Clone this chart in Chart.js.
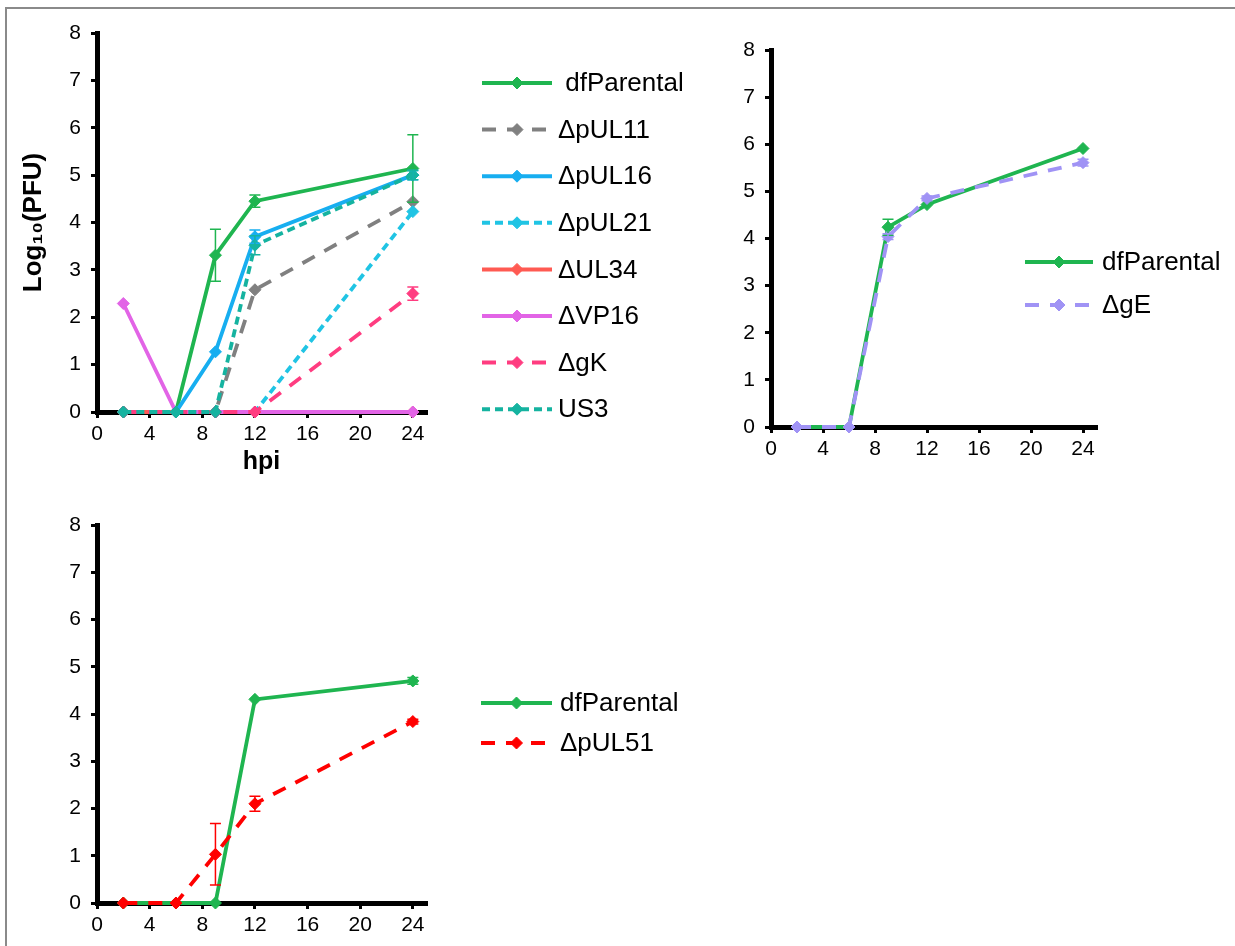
<!DOCTYPE html>
<html><head><meta charset="utf-8">
<script src="https://cdn.jsdelivr.net/npm/chart.js@4.4.1/dist/chart.umd.min.js"></script>
<style>
html,body{margin:0;padding:0;background:#fff;}
body{width:1235px;height:946px;position:relative;overflow:hidden;}
#frame{position:absolute;left:5px;top:7px;width:1240px;height:950px;border-left:2px solid #8a8a8a;border-top:2px solid #8a8a8a;}
canvas{position:absolute;}
#c1{left:0;top:0;}
#c2{left:700px;top:0;}
#c3{left:0;top:490px;}
</style></head><body>
<div id="frame"></div>
<canvas id="c1" width="700" height="477"></canvas>
<canvas id="c2" width="535" height="480"></canvas>
<canvas id="c3" width="700" height="456"></canvas>
<script>
// ---------- data ----------
const hours = [2, 6, 9, 12, 24];
const xTicks = [0, 4, 8, 12, 16, 20, 24];
const yTicks = [0, 1, 2, 3, 4, 5, 6, 7, 8];
const yTitle = 'Log₁₀(PFU)';
const xTitle = 'hpi';

// Panel A
const aLabels = [' dfParental', 'ΔpUL11', 'ΔpUL16', 'ΔpUL21', 'ΔUL34', 'ΔVP16', 'ΔgK', 'US3'];
const aParental    = [0, 0, 3.31, 4.45, 5.14];
const aParentalErr = [0, 0, 0.55, 0.13, 0.71];
const aUL11        = [0, 0, 0, 2.58, 4.44];
const aUL11Err     = [0, 0, 0, 0, 0];
const aUL16        = [0, 0, 1.27, 3.70, 5.00];
const aUL16Err     = [0, 0, 0, 0.14, 0.10];
const aUL21        = [0, 0, 0, 0, 4.23];
const aUL21Err     = [0, 0, 0, 0, 0];
const aUL34        = [0, 0, 0, 0, 0];
const aUL34Err     = [0, 0, 0, 0, 0];
const aVP16        = [2.29, 0, 0, 0, 0];
const aVP16Err     = [0, 0, 0, 0, 0];
const agK          = [0, 0, 0, 0, 2.50];
const agKErr       = [0, 0, 0, 0, 0.14];
const aUS3         = [0, 0, 0, 3.52, 5.00];
const aUS3Err      = [0, 0, 0, 0.20, 0.10];

// Panel B
const bLabels = ['dfParental', 'ΔgE'];
const bParental    = [0, 0, 4.24, 4.72, 5.91];
const bParentalErr = [0, 0, 0.17, 0, 0];
const bgE          = [0, 0, 4.04, 4.85, 5.61];
const bgEErr       = [0, 0, 0.06, 0.05, 0.07];

// Panel C
const cLabels = ['dfParental', 'ΔpUL51'];
const cParental    = [0, 0, 0, 4.31, 4.70];
const cParentalErr = [0, 0, 0, 0, 0.07];
const cUL51        = [0, 0, 1.03, 2.10, 3.84];
const cUL51Err     = [0, 0, 0.65, 0.16, 0.05];

// ---------- styles ----------
const FAMILY = "'Liberation Sans', Arial, Helvetica, sans-serif";
Chart.defaults.font.family = FAMILY;
const LONG = [14, 11], SHORT = [8, 5];
const styleA = [
  {c:'#1fb550', d:[]}, {c:'#808080', d:LONG}, {c:'#17aef0', d:[]}, {c:'#20c4e4', d:SHORT},
  {c:'#ff5a52', d:[]}, {c:'#e264e6', d:[]}, {c:'#ff3c80', d:LONG}, {c:'#15b3a0', d:SHORT}
];
const styleB = [{c:'#1fb550', d:[]}, {c:'#a093f5', d:LONG}];
const styleC = [{c:'#1fb550', d:[]}, {c:'#ff0000', d:LONG}];

function makeDatasets(labels, series, errs, styles) {
  return series.map((vals, i) => ({
    label: labels[i],
    data: hours.map((h, k) => ({x: h, y: vals[k]})),
    errors: errs[i],
    borderColor: styles[i].c,
    backgroundColor: styles[i].c,
    pointBackgroundColor: styles[i].c,
    pointBorderColor: styles[i].c,
    borderDash: styles[i].d,
    borderWidth: 3.8,
    pointStyle: 'rectRot',
    pointRadius: 6,
    pointBorderWidth: 1,
    tension: 0,
    clip: false,
    order: -i
  }));
}

const errorBars = {
  id: 'errorBars',
  afterDatasetsDraw(chart) {
    const ctx = chart.ctx, xs = chart.scales.x, ys = chart.scales.y;
    chart.data.datasets.forEach(ds => {
      if (!ds.errors) return;
      ctx.save();
      ctx.strokeStyle = ds.borderColor; ctx.lineWidth = 1.5; ctx.setLineDash([]);
      ds.data.forEach((p, i) => {
        const e = ds.errors[i];
        if (!e) return;
        const x = xs.getPixelForValue(p.x);
        const y1 = ys.getPixelForValue(p.y - e), y2 = ys.getPixelForValue(p.y + e);
        ctx.beginPath();
        ctx.moveTo(x, y1); ctx.lineTo(x, y2);
        ctx.moveTo(x - 5.5, y1); ctx.lineTo(x + 5.5, y1);
        ctx.moveTo(x - 5.5, y2); ctx.lineTo(x + 5.5, y2);
        ctx.stroke();
      });
      ctx.restore();
    });
  }
};

const lineLegend = {
  id: 'lineLegend',
  afterDraw(chart, args, o) {
    const ctx = chart.ctx;
    chart.data.datasets.forEach((ds, i) => {
      const y = o.y + i * o.dy;
      ctx.save();
      ctx.strokeStyle = ds.borderColor; ctx.lineWidth = 4;
      ctx.setLineDash(ds.borderDash || []);
      ctx.beginPath(); ctx.moveTo(o.x, y); ctx.lineTo(o.x + o.len, y); ctx.stroke();
      ctx.setLineDash([]);
      ctx.fillStyle = ds.pointBackgroundColor; ctx.strokeStyle = ds.pointBorderColor; ctx.lineWidth = 1;
      Chart.helpers.drawPoint(ctx, {pointStyle: 'rectRot', radius: 6, borderWidth: 1, rotation: 0}, o.x + o.len / 2, y);
      ctx.fillStyle = '#000';
      ctx.font = o.size + 'px ' + FAMILY;
      ctx.textBaseline = 'middle'; ctx.textAlign = 'left';
      ctx.fillText(ds.label, o.textX, y + 1);
      ctx.restore();
    });
  }
};

function makeScales(yW, xH, yT, xT) {
  const grid = {display: true, drawOnChartArea: false, drawTicks: true, tickLength: 6, color: '#000', lineWidth: 3};
  const border = {display: true, color: '#000', width: 5};
  return {
    x: {
      type: 'linear', min: 0, max: 25,
      afterBuildTicks: s => { s.ticks = xTicks.map(v => ({value: v})); },
      afterFit: s => { s.height = xH; },
      grid, border,
      ticks: {color: '#000', font: {size: 21}, padding: 4, maxRotation: 0, autoSkip: false},
      title: {display: !!xT, text: xT || '', color: '#000', font: {size: 25, weight: 'bold'}, padding: 0}
    },
    y: {
      type: 'linear', min: 0, max: 8,
      afterBuildTicks: s => { s.ticks = yTicks.map(v => ({value: v})); },
      afterFit: s => { s.width = yW; },
      grid, border,
      ticks: {color: '#000', font: {size: 21}, padding: 10, autoSkip: false},
      title: {display: !!yT, text: yT || '', color: '#000', font: {size: 26, weight: 'bold'}, padding: {top: 18, bottom: 0}}
    }
  };
}

function makeChart(id, datasets, pad, yW, xH, yT, xT, legendOpts) {
  return new Chart(document.getElementById(id), {
    type: 'line',
    data: {datasets},
    options: {
      responsive: false, animation: false, events: [],
      layout: {padding: pad},
      scales: makeScales(yW, xH, yT, xT),
      plugins: {legend: {display: false}, tooltip: {enabled: false}, lineLegend: legendOpts}
    },
    plugins: [errorBars, lineLegend]
  });
}

makeChart('c1',
  makeDatasets(aLabels,
    [aParental, aUL11, aUL16, aUL21, aUL34, aVP16, agK, aUS3],
    [aParentalErr, aUL11Err, aUL16Err, aUL21Err, aUL34Err, aVP16Err, agKErr, aUS3Err], styleA),
  {left: 0, top: 33, right: 274, bottom: 0}, 97, 65, yTitle, xTitle,
  {x: 482, len: 70, textX: 558, y: 83, dy: 46.6, size: 26});

makeChart('c2',
  makeDatasets(bLabels, [bParental, bgE], [bParentalErr, bgEErr], styleB),
  {left: 0, top: 50, right: 139, bottom: 0}, 71, 53, null, null,
  {x: 325, len: 68, textX: 402, y: 262, dy: 43, size: 26});

makeChart('c3',
  makeDatasets(cLabels, [cParental, cUL51], [cParentalErr, cUL51Err], styleC),
  {left: 0, top: 35, right: 274, bottom: 0}, 97, 43, null, null,
  {x: 481, len: 71, textX: 560, y: 213, dy: 40, size: 26});
</script>
</body></html>
